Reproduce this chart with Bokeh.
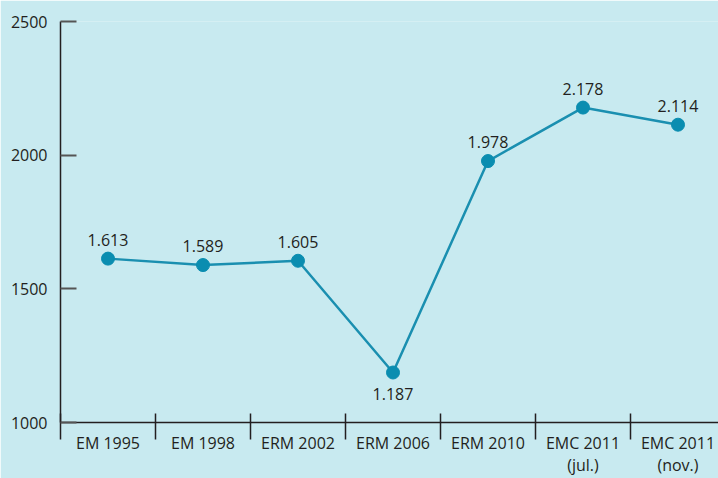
from bokeh.plotting import figure
from bokeh.models import FixedTicker, ColumnDataSource, Range1d, LinearAxis
from bokeh.core.properties import value
from bokeh.embed import file_html
from bokeh.resources import INLINE

categories = ["EM 1995", "EM 1998", "ERM 2002", "ERM 2006", "ERM 2010",
              "EMC 2011\n(jul.)", "EMC 2011\n(nov.)"]
values = [1613, 1589, 1605, 1187, 1978, 2178, 2114]
labels = ["1.613", "1.589", "1.605", "1.187", "1.978", "2.178", "2.114"]
label_side = ["above", "above", "above", "below", "above", "above", "above"]
y_ticks = [1000, 1500, 2000, 2500]

BG = "#c8eaf0"
LINE = "#1a8fb0"
MARK = "#0a8db0"
INK = "#231f20"
FONT = "Open Sans"

xs = list(range(len(categories)))
dividers = [i - 0.5 for i in range(len(categories) + 1)]
line1 = [c.split("\n")[0] for c in categories]
line2 = [c.split("\n")[1] if "\n" in c else "" for c in categories]

p = figure(width=718, height=478, output_backend="svg", toolbar_location=None,
           x_range=Range1d(-0.5, -0.5 + 658 / 95), y_range=Range1d(1000, 2500),
           min_border_left=60, min_border_top=21, min_border_right=0,
           min_border_bottom=56)
p.styles = {"box-shadow": f"0 0 0 8px {BG}"}
p.background_fill_color = BG
p.border_fill_color = BG
p.outline_line_color = None
p.xgrid.grid_line_color = None
p.ygrid.grid_line_color = None

xa = p.xaxis[0]
xa.ticker = FixedTicker(ticks=xs, minor_ticks=dividers)
xa.major_label_overrides = {i: c for i, c in zip(xs, line1)}
xa.major_tick_line_color = None
xa.major_tick_in = 0
xa.major_tick_out = 0
xa.minor_tick_in = 9
xa.minor_tick_out = 17
xa.minor_tick_line_color = INK
xa.minor_tick_line_width = 1.5
xa.axis_line_color = INK
xa.axis_line_width = 1.5
xa.major_label_text_font = FONT
xa.major_label_text_font_size = "16px"
xa.major_label_text_color = INK
xa.major_label_standoff = -8

xa2 = LinearAxis(ticker=FixedTicker(ticks=xs, minor_ticks=[]),
                 major_label_overrides={i: c for i, c in zip(xs, line2)},
                 axis_line_color=None, major_tick_line_color=None,
                 minor_tick_line_color=None, major_tick_in=0, major_tick_out=0,
                 minor_tick_in=0, minor_tick_out=0,
                 major_label_text_font=FONT, major_label_text_font_size="16px",
                 major_label_text_color=INK, major_label_standoff=-3)
p.add_layout(xa2, "below")

ya = p.yaxis[0]
ya.ticker = FixedTicker(ticks=y_ticks, minor_ticks=[])
ya.major_tick_in = 16
ya.major_tick_out = 0
ya.major_tick_line_color = "#555555"
ya.major_tick_line_width = 2
ya.minor_tick_line_color = None
ya.axis_line_color = INK
ya.axis_line_width = 1.5
ya.major_label_text_font = FONT
ya.major_label_text_font_size = "16px"
ya.major_label_text_color = INK
ya.major_label_standoff = 13

p.line(xs, values, line_color=LINE, line_width=2.5)
p.scatter(xs, values, size=13, fill_color=MARK, line_color=MARK)

src = ColumnDataSource(dict(x=xs, y=values, t=labels,
                            dy=[-19 if s == "above" else 21 for s in label_side]))
p.text("x", "y", text="t", source=src, y_offset="dy", text_align="center",
       text_baseline="middle", text_font=value(FONT), text_font_size="16px",
       text_color=INK)

open("out.html", "w").write(file_html(p, INLINE))
